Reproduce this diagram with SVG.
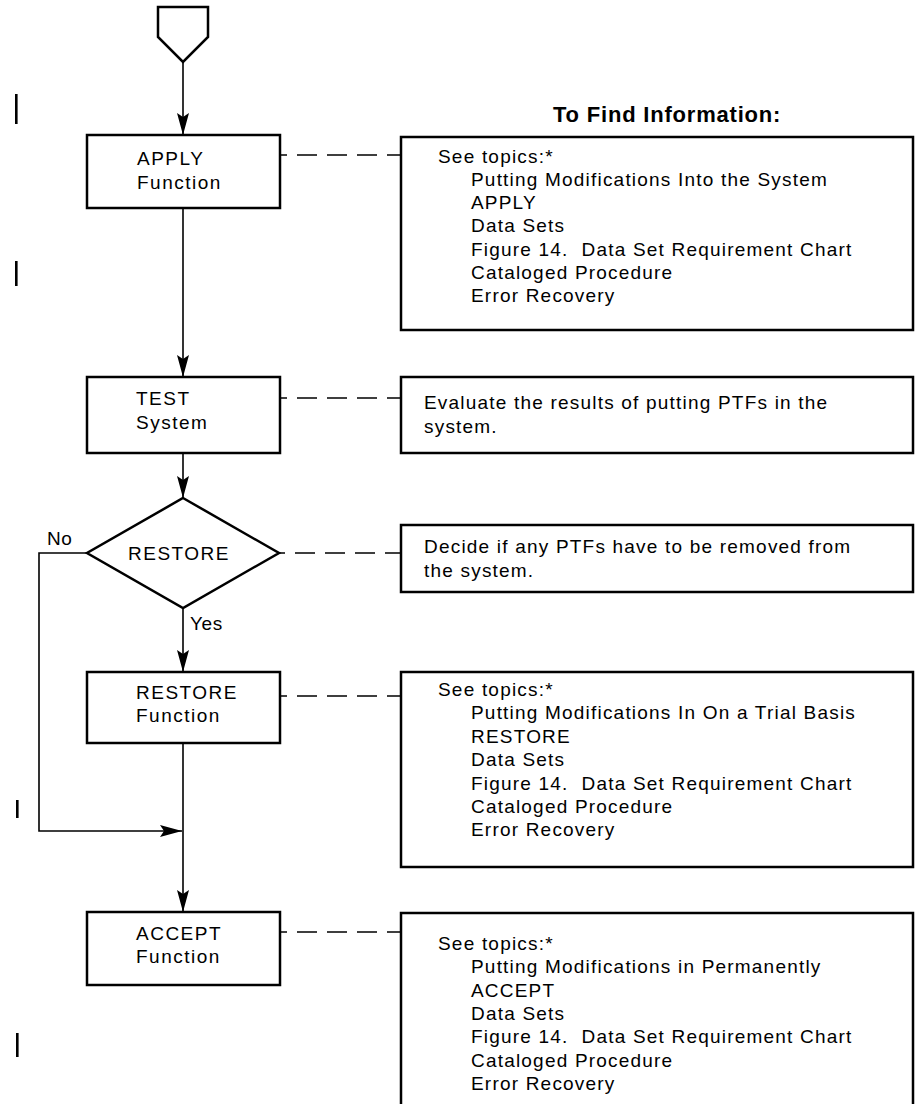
<svg xmlns="http://www.w3.org/2000/svg" width="916" height="1104" viewBox="0 0 916 1104">
  <style>
    .box { fill: #fff; stroke: #000; stroke-width: 2.5; }
    .flow { fill: none; stroke: #000; stroke-width: 1.6; }
    .dash { fill: none; stroke: #000; stroke-width: 1.6; stroke-dasharray: 20 10; }
    .bar { fill: #000; }
    text { font-family: "Liberation Sans", Arial, sans-serif; fill: #000; }
    .lbl { font-size: 19px; letter-spacing: 1.5px; }
    .info { font-size: 19px; letter-spacing: 1.2px; }
    .head { font-size: 22px; font-weight: bold; letter-spacing: 0.8px; }
  </style>
  <defs>
    <marker id="arrow" viewBox="0 0 22 12" refX="22" refY="6" markerWidth="22" markerHeight="12" orient="auto" markerUnits="userSpaceOnUse">
      <path d="M0,0 L22,6 L0,12 L4,6 z" fill="#000"/>
    </marker>
  </defs>

  <rect width="916" height="1104" fill="#fff"/>

  <!-- revision bars in the left margin -->
  <g id="revision-bars">
    <rect class="bar" x="15" y="94" width="2.6" height="30"/>
    <rect class="bar" x="15" y="261" width="2.6" height="25"/>
    <rect class="bar" x="16" y="800" width="2.6" height="18"/>
    <rect class="bar" x="16" y="1033" width="2.6" height="24"/>
  </g>

  <g id="connectors">
    <line class="flow" x1="183" y1="62" x2="183" y2="135" marker-end="url(#arrow)"/>
    <line class="flow" x1="183" y1="208" x2="183" y2="377" marker-end="url(#arrow)"/>
    <line class="flow" x1="183" y1="453" x2="183" y2="498" marker-end="url(#arrow)"/>
    <line class="flow" x1="183" y1="608" x2="183" y2="672" marker-end="url(#arrow)"/>
    <line class="flow" x1="183" y1="743" x2="183" y2="912" marker-end="url(#arrow)"/>
    <polyline class="flow" points="87,553 39,553 39,831 182,831" marker-end="url(#arrow)"/>
    <line class="dash" x1="281" y1="155" x2="401" y2="155" stroke-dashoffset="14"/>
    <line class="dash" x1="281" y1="398" x2="401" y2="398" stroke-dashoffset="14"/>
    <line class="dash" x1="279" y1="553" x2="401" y2="553" stroke-dashoffset="14"/>
    <line class="dash" x1="281" y1="696" x2="401" y2="696" stroke-dashoffset="14"/>
    <line class="dash" x1="281" y1="932" x2="401" y2="932" stroke-dashoffset="14"/>
    <text x="47" y="545" class="lbl" style="letter-spacing:0.6px">No</text>
    <text x="190" y="630" class="lbl" style="letter-spacing:0.6px">Yes</text>
  </g>

  <g id="start">
    <polygon class="box" points="158,7 208,7 208,37 183,62 158,37"/>
  </g>

  <g id="apply">
    <rect class="box" x="87" y="135" width="193" height="73"/>
    <text class="lbl" x="137" y="165">APPLY</text>
    <text class="lbl" x="137" y="189">Function</text>
  </g>

  <g id="test">
    <rect class="box" x="87" y="377" width="193" height="76"/>
    <text class="lbl" x="136" y="405">TEST</text>
    <text class="lbl" x="136" y="429">System</text>
  </g>

  <g id="restore-decision">
    <polygon class="box" points="183,498 279,553 183,608 87,553"/>
    <text class="lbl" x="179" y="560" text-anchor="middle">RESTORE</text>
  </g>

  <g id="restore">
    <rect class="box" x="87" y="672" width="193" height="71"/>
    <text class="lbl" x="136" y="699">RESTORE</text>
    <text class="lbl" x="136" y="722">Function</text>
  </g>

  <g id="accept">
    <rect class="box" x="87" y="912" width="193" height="73"/>
    <text class="lbl" x="136" y="940">ACCEPT</text>
    <text class="lbl" x="136" y="963">Function</text>
  </g>

  <text class="head" x="553" y="122">To Find Information:</text>

  <g id="info-apply">
    <rect class="box" x="401" y="137" width="512" height="193"/>
    <text class="info" x="438" y="163">See topics:*</text>
    <text class="info" x="471" y="186">Putting Modifications Into the System</text>
    <text class="info" x="471" y="209">APPLY</text>
    <text class="info" x="471" y="232">Data Sets</text>
    <text class="info" x="471" y="256">Figure 14.&#160; Data Set Requirement Chart</text>
    <text class="info" x="471" y="279">Cataloged Procedure</text>
    <text class="info" x="471" y="302">Error Recovery</text>
  </g>

  <g id="info-test">
    <rect class="box" x="401" y="377" width="512" height="76"/>
    <text class="info" x="424" y="409">Evaluate the results of putting PTFs in the</text>
    <text class="info" x="424" y="433">system.</text>
  </g>

  <g id="info-decision">
    <rect class="box" x="401" y="525" width="512" height="67"/>
    <text class="info" x="424" y="553">Decide if any PTFs have to be removed from</text>
    <text class="info" x="424" y="577">the system.</text>
  </g>

  <g id="info-restore">
    <rect class="box" x="401" y="672" width="512" height="195"/>
    <text class="info" x="438" y="696">See topics:*</text>
    <text class="info" x="471" y="719">Putting Modifications In On a Trial Basis</text>
    <text class="info" x="471" y="743">RESTORE</text>
    <text class="info" x="471" y="766">Data Sets</text>
    <text class="info" x="471" y="790">Figure 14.&#160; Data Set Requirement Chart</text>
    <text class="info" x="471" y="813">Cataloged Procedure</text>
    <text class="info" x="471" y="836">Error Recovery</text>
  </g>

  <g id="info-accept">
    <rect class="box" x="401" y="913" width="512" height="260"/>
    <text class="info" x="438" y="950">See topics:*</text>
    <text class="info" x="471" y="973">Putting Modifications in Permanently</text>
    <text class="info" x="471" y="997">ACCEPT</text>
    <text class="info" x="471" y="1020">Data Sets</text>
    <text class="info" x="471" y="1043">Figure 14.&#160; Data Set Requirement Chart</text>
    <text class="info" x="471" y="1067">Cataloged Procedure</text>
    <text class="info" x="471" y="1090">Error Recovery</text>
  </g>
</svg>
